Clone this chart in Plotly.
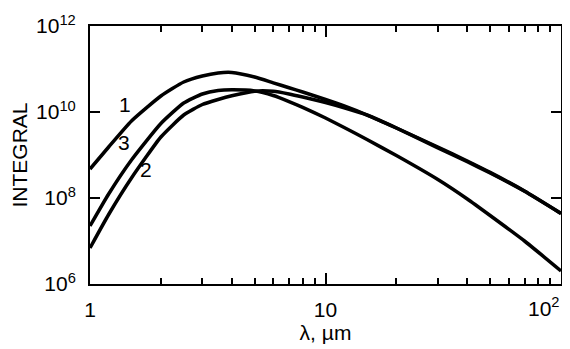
import math
import plotly.graph_objects as go

# wavelength samples (um)
lam = [1, 1.2, 1.5, 2, 2.5, 3, 3.5, 4, 5, 6, 7, 8, 10, 12, 15, 20, 30, 40, 50, 70, 100]

# log10(INTEGRAL)
curve1_log = [8.674, 9.186, 9.791, 10.372, 10.698, 10.837, 10.907, 10.919, 10.814, 10.679,
              10.565, 10.465, 10.291, 10.140, 9.930, 9.628, 9.186, 8.860, 8.595, 8.163, 7.642]
curve2_log = [6.837, 7.616, 8.465, 9.419, 9.930, 10.174, 10.291, 10.377, 10.484, 10.481,
              10.419, 10.349, 10.221, 10.098, 9.930, 9.628, 9.167, 8.842, 8.581, 8.156, 7.640]
curve3_log = [7.349, 8.093, 8.884, 9.733, 10.209, 10.419, 10.500, 10.516, 10.491, 10.384,
              10.244, 10.109, 9.860, 9.640, 9.360, 8.988, 8.430, 7.977, 7.593, 7.000, 6.302]

curve_labels = ["1", "2", "3"]
label_x = [1.409, 1.726, 1.400]
label_y = [1.51e10, 4.65e8, 1.93e9]

x_tickvals = [1, 10, 100]
x_ticktext = ["1", "10", ""]
x_last_label = "10<sup>2</sup>"
x_minor = [2, 3, 4, 5, 6, 7, 8, 9, 20, 30, 40, 50, 60, 70, 80, 90]
y_tickvals = [1e6, 1e8, 1e10, 1e12]
y_ticktext = ["10<sup>6</sup>", "10<sup>8</sup>", "10<sup>10</sup>", "10<sup>12</sup>"]

FONT = "Liberation Sans, Arial, sans-serif"
FS = 21
font = dict(family=FONT, size=FS, color="black")

fig = go.Figure()
for logs in (curve1_log, curve2_log, curve3_log):
    fig.add_trace(go.Scatter(
        x=lam, y=[10 ** v for v in logs], mode="lines",
        line=dict(color="black", width=3.5, shape="spline", smoothing=0.5),
        showlegend=False, hoverinfo="skip"))

for t, xx, yy in zip(curve_labels, label_x, label_y):
    fig.add_annotation(x=math.log10(xx), y=math.log10(yy), text=t,
                       showarrow=False, font=font)

# right-most x tick label, kept inside the figure as in the original
fig.add_annotation(x=1.928, y=0, xref="x", yref="paper", text=x_last_label,
                   xanchor="center", yanchor="top", yshift=-8, showarrow=False,
                   font=font)

fig.update_xaxes(
    type="log", range=[0, 2], automargin=False,
    tickvals=x_tickvals, ticktext=x_ticktext,
    ticks="inside", ticklen=11, tickwidth=2, tickcolor="black",
    minor=dict(tickvals=x_minor, ticks="inside", ticklen=6, tickwidth=2, tickcolor="black"),
    showline=True, linewidth=2, linecolor="black", mirror="ticks",
    showgrid=False, zeroline=False,
    tickfont=font, ticklabelstandoff=6,
    title=dict(text="λ, µm", font=font, standoff=2),
)
fig.update_yaxes(
    type="log", range=[6, 12], automargin=False,
    tickvals=y_tickvals, ticktext=y_ticktext,
    ticks="inside", ticklen=10, tickwidth=2, tickcolor="black",
    showline=True, linewidth=2, linecolor="black", mirror="ticks",
    showgrid=False, zeroline=False,
    tickfont=font, ticklabelstandoff=8,
    title=dict(text="INTEGRAL", font=font, standoff=13),
)
# the page places the figure 8 px from its top-left corner
fig.update_layout(
    width=562, height=341,
    margin=dict(l=82, r=9, t=18, b=65),
    paper_bgcolor="white", plot_bgcolor="white",
)
fig.write_html("out.html")
